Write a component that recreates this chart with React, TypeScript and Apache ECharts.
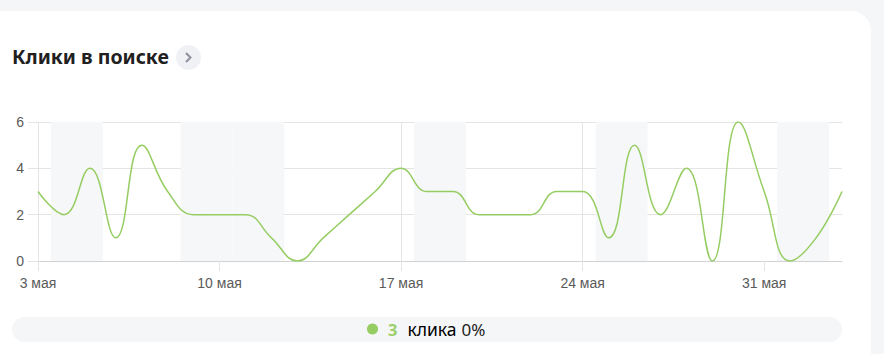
import React, { useEffect, useRef } from "react";
import * as echarts from "echarts";

const days = [
  "3 мая", "4 мая", "5 мая", "6 мая", "7 мая", "8 мая", "9 мая", "10 мая",
  "11 мая", "12 мая", "13 мая", "14 мая", "15 мая", "16 мая", "17 мая", "18 мая",
  "19 мая", "20 мая", "21 мая", "22 мая", "23 мая", "24 мая", "25 мая", "26 мая",
  "27 мая", "28 мая", "29 мая", "30 мая", "31 мая", "1 июня", "2 июня", "3 июня",
];
const clicks = [3, 2, 4, 1, 5, 3, 2, 2, 2, 1, 0, 1, 2, 3, 4, 3, 3, 2, 2, 2, 3, 3, 1, 5, 2, 4, 0, 6, 3, 0, 1, 3];
const weekendDays = ["4 мая", "5 мая", "9 мая", "10 мая", "11 мая", "12 мая", "18 мая", "19 мая", "25 мая", "26 мая", "1 июня", "2 июня"];
const xTickDays = ["3 мая", "10 мая", "17 мая", "24 мая", "31 мая"];
const yTicks = [0, 2, 4, 6];
const title = "Клики в поиске";
const seriesName = "клика";
const totalClicks = 3;
const changeText = "0%";

const LINE = "#95cd62";

export default function App() {
  const ref = useRef<HTMLDivElement>(null);
  useEffect(() => {
    if (!ref.current) return;
    const chart = echarts.init(ref.current, null, { renderer: "svg" });
    const xTickIdx = xTickDays.map((d) => days.indexOf(d));
    const bands = weekendDays.map((d) => {
      const i = days.indexOf(d);
      return [{ xAxis: i - 0.5 }, { xAxis: i + 0.5 }];
    });
    chart.setOption({
      animation: false,
      backgroundColor: "#f5f6f8",
      graphic: [
        { type: "rect", z: -10, shape: { x: -30, y: 11, width: 901, height: 380, r: 20 }, style: { fill: "#ffffff" } },
        { type: "rect", z: -10, shape: { x: 12, y: 317, width: 830, height: 25, r: 12.5 }, style: { fill: "#f5f6f8" } },
        {
          type: "text", x: 12, y: 56,
          style: { text: title, fill: "#21201f", font: "bold 19.5px 'Noto Sans'", verticalAlign: "middle" },
        },
        { type: "circle", shape: { cx: 188.5, cy: 57.5, r: 12.5 }, style: { fill: "#f0f1f5" } },
        {
          type: "polyline",
          shape: { points: [[186, 53], [190.5, 57.5], [186, 62]] },
          style: { stroke: "#8e909c", lineWidth: 2, fill: null },
        },
      ],
      grid: { left: 38, right: 42, top: 122, bottom: 93, containLabel: false },
      xAxis: {
        type: "value",
        min: 0,
        max: days.length - 1,
        interval: 7,
        axisLine: { show: true, lineStyle: { color: "#d2d2d2", width: 1 } },
        axisTick: { show: true, length: 10, customValues: xTickIdx, lineStyle: { color: "#e4e4e4" } },
        splitLine: { show: true, showMaxLine: false, lineStyle: { color: "#e4e4e4" } },
        axisLabel: {
          customValues: xTickIdx,
          formatter: (v: number) => days[Math.round(v)] ?? "",
          color: "#5a5a5a",
          fontSize: 14,
          fontFamily: "Arial",
          margin: 15,
        },
      },
      yAxis: {
        type: "value",
        min: yTicks[0],
        max: yTicks[yTicks.length - 1],
        interval: 2,
        axisLine: { show: true, lineStyle: { color: "#e4e4e4" } },
        axisTick: { show: true, length: 10, lineStyle: { color: "#e4e4e4" } },
        splitLine: { show: true, lineStyle: { color: "#e4e4e4" } },
        axisLabel: { color: "#5a5a5a", fontSize: 14, fontFamily: "Arial", margin: 14 },
      },
      legend: {
        data: [{ name: seriesName, icon: "circle" }],
        left: 362,
        top: 315,
        itemWidth: 11,
        itemHeight: 11,
        itemGap: 0,
        selectedMode: false,
        formatter: (name: string) => `{n|${totalClicks}}{t|${name}}{p|${changeText}}`,
        textStyle: {
          rich: {
            n: { color: "#9ccf6b", fontSize: 16.5, fontWeight: "bold", fontFamily: "Noto Sans", padding: [0, 10, 0, 5] },
            t: { color: "#000000", fontSize: 17.5, fontFamily: "Noto Sans", padding: [0, 5, 0, 0] },
            p: { color: "#222222", fontSize: 17, fontFamily: "Noto Sans" },
          },
        },
      },
      series: [
        {
          name: "weekends",
          type: "line",
          z: -1,
          data: clicks.map((v, i) => [i, v]),
          showSymbol: false,
          silent: true,
          lineStyle: { opacity: 0 },
          markArea: { silent: true, itemStyle: { color: "#f6f7f9" }, data: bands },
        },
        {
          name: seriesName,
          type: "line",
          smooth: 0.45,
          showSymbol: false,
          symbol: "none",
          color: LINE,
          lineStyle: { color: LINE, width: 1.5 },
          data: clicks.map((v, i) => [i, v]),
        },
      ],
    });
    return () => chart.dispose();
  }, []);
  return <div ref={ref} style={{ position: "fixed", left: 0, top: 0, width: 884, height: 354 }} />;
}
